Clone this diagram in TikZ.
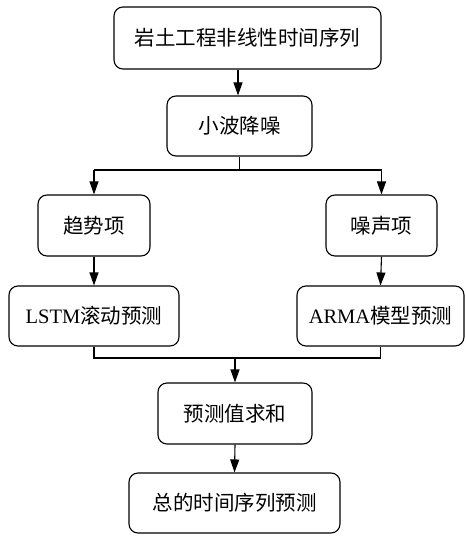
\documentclass[tikz,border=0pt]{standalone}
\usepackage{fontspec}
\setmainfont{Liberation Serif}
\newfontfamily\cjk{Noto Sans CJK SC}
\usepackage{tikz}
\usetikzlibrary{arrows.meta,calc}

\begin{document}
\begin{tikzpicture}[x=1pt,y=-1pt,
  box/.style={draw,line width=1.1pt,rounded corners=9pt,align=center,inner sep=0pt,
    font=\fontsize{20.5}{24}\selectfont},
  flow/.style={line width=1.1pt,-{Triangle[length=13pt,width=9pt]}},
  link/.style={line width=1.1pt}]
\useasboundingbox (0,0) rectangle (465,537);
\node[box,minimum width=267pt,minimum height=62pt] (series) at (247.5,38) {\cjk 岩土工程非线性时间序列};
\node[box,minimum width=145pt,minimum height=60pt] (denoise) at (239.5,126) {\cjk 小波降噪};
\node[box,minimum width=112pt,minimum height=61pt] (trend) at (94,225.5) {\cjk 趋势项};
\node[box,minimum width=111pt,minimum height=61pt] (noise) at (381.5,225.5) {\cjk 噪声项};
\node[box,minimum width=170pt,minimum height=60pt] (lstm) at (94,316) {LSTM{\cjk 滚动预测}};
\node[box,minimum width=167pt,minimum height=60pt] (arma) at (380.5,316) {ARMA{\cjk 模型预测}};
\node[box,minimum width=154pt,minimum height=61pt] (sum) at (235,413.5) {\cjk 预测值求和};
\node[box,minimum width=211pt,minimum height=60pt] (total) at (234.5,503) {\cjk 总的时间序列预测};
\coordinate (split) at (239.5,170);
\coordinate (merge) at (235,358);
% top
\draw[flow] ($(series.south)+(-9.5,0)$) -- ($(denoise.north)+(-1.5,0)$);
\draw[link] (denoise.south) -- (split);
\draw[link] (trend |- split) -- (noise |- split);
\draw[flow] (trend |- split) -- (trend.north);
\draw[flow] (noise |- split) -- (noise.north);
% branches
\draw[flow] (trend.south) -- (lstm.north);
\draw[flow] (noise.south) -- (arma.north);
% bottom
\draw[link] (lstm.south) -- (lstm |- merge) -- (arma |- merge) -- (arma.south);
\draw[flow] (merge) -- (sum.north);
\draw[flow] (sum.south) -- (total.north);
\end{tikzpicture}
\end{document}
